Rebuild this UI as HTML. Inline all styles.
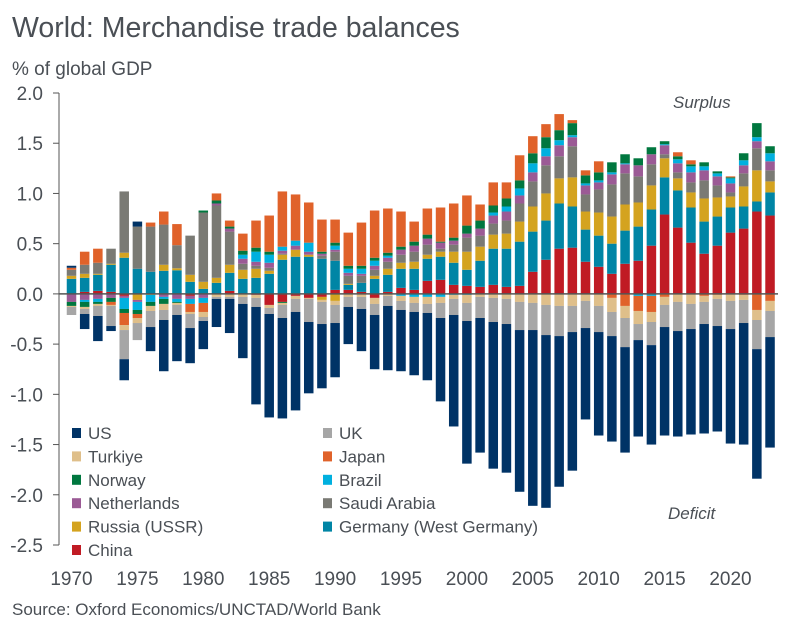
<!DOCTYPE html>
<html><head><meta charset="utf-8">
<style>
html,body{margin:0;padding:0;background:#fff;}
#wrap{position:relative;width:799px;height:638px;overflow:hidden;font-family:"Liberation Sans",sans-serif;color:#4a4f55;}
svg{position:absolute;left:0;top:0;}
</style></head>
<body>
<div id="wrap">
<svg id="chart" width="799" height="638">
<text x="12" y="37" font-size="28.5" fill="#4a4f55">World: Merchandise trade balances</text>
<text x="12" y="75" font-size="19" fill="#4a4f55">% of global GDP</text>
<text x="673" y="108" font-size="17" font-style="italic" fill="#4a4f55">Surplus</text>
<text x="668" y="519" font-size="17" font-style="italic" fill="#4a4f55">Deficit</text>
<text x="12" y="615" font-size="17" fill="#4a4f55">Source: Oxford Economics/UNCTAD/World Bank</text>
<g id="bars"></g>
<g id="axes"></g>
<g id="legend"></g>
</svg>
</div>
<script>
const years = [];
for (let y = 1970; y <= 2023; y++) years.push(y);
const seriesNames = ["China","Germany (West Germany)","Russia (USSR)","Saudi Arabia","Netherlands","Brazil","Norway","Japan","Turkiye","UK","US"];
const seriesColors = ["#c01b24","#0085a5","#d4a31f","#7a7a74","#9b5a95","#00b0df","#00773f","#e0622a","#dfbf8a","#a6a6a6","#003366"];
const china = [0,.02,.03,.02,-.02,0,0,0,0,-.02, 0,0,.03,0,-.01,-.11,-.08,-.02,-.04,-.03, .04,.04,.02,-.04,.02,.06,.04,.13,.14,.09, .08,.07,.09,.07,.08,.22,.34,.45,.46,.32, .27,.2,.3,.33,.48,.79,.66,.51,.4,.48, .61,.65,.82,.78];
const germany = [.15,.14,.16,.27,.36,.25,.22,.23,.235,.12, .05,.11,.18,.15,.16,.2,.34,.37,.37,.35, .29,.05,.09,.15,.17,.19,.21,.22,.23,.22, .16,.26,.36,.38,.44,.4,.39,.45,.41,.32, .31,.3,.33,.34,.36,.37,.37,.35,.32,.29, .25,.22,.1,.23];
const russia = [.03,.04,.01,.01,.05,-.06,-.01,.06,.02,.07, .07,.05,.08,.09,.09,.03,.05,.07,.02,-.03, -.07,.01,0,.03,.06,.06,.07,.04,.05,.11, .18,.14,.14,.15,.2,.25,.27,.25,.29,.18, .23,.27,.26,.24,.24,.19,.12,.15,.23,.19, .11,.2,.31,.11];
const saudi = [.06,.09,.11,.15,.61,.42,.45,.4,.23,.39, .69,.72,.33,.06,.03,.03,.01,0,0,.03, .09,.08,.07,.06,.07,.08,.1,.1,.03,.07, .14,.11,.11,.13,.18,.25,.28,.22,.31,.17, .23,.32,.31,.26,.21,.04,.06,.1,.18,.12, .04,.13,.22,.11];
const netherlands = [-.08,-.06,-.05,-.04,-.02,-.02,0,-.03,-.05,-.03, -.04,.02,.03,.05,.04,.05,.03,.04,.03,.02, .02,.03,.02,.04,.04,.05,.06,.06,.06,.04, .04,.07,.08,.09,.08,.09,.09,.11,.09,.09, .07,.1,.09,.11,.1,.09,.09,.1,.1,.09, .09,.08,.07,.09];
const brazil = [0,-.02,-.03,0,-.11,-.08,-.07,-.02,-.03,-.05, -.05,0,0,.04,.1,.08,.04,.05,.09,0, .04,.04,.05,.05,.02,-.02,-.03,-.03,-.03,-.01, -.01,0,.03,.05,.07,.09,.08,.05,.02,.02, .02,.02,.01,-.02,-.02,.01,.04,.06,.04,.03, .05,.05,.04,.08];
const norway = [-.04,-.05,-.02,-.04,-.04,-.04,-.04,-.05,-.01,0, .02,.03,.02,.04,.04,.03,-.01,0,0,.02, .03,.03,.03,.03,.03,.03,.04,.04,.01,.03, .08,.08,.07,.08,.08,.1,.11,.1,.12,.08, .08,.1,.09,.07,.07,.03,.03,.02,.04,.02, .01,.07,.14,.07];
const japan = [.02,.13,.14,-.03,-.12,-.04,.04,.13,.21,-.08, -.09,.07,.06,.17,.27,.36,.55,.46,.4,.32, .23,.33,.43,.47,.44,.35,.2,.26,.34,.34, .3,.16,.23,.16,.25,.17,.13,.16,.03,.05, .11,-.04,-.12,-.15,-.16,-.03,.04,.04,-.02,-.01, .01,-.01,-.16,-.07];
const turkiye = [-.01,-.02,-.02,-.01,-.05,-.05,-.05,-.06,-.02,-.02, -.05,-.03,-.03,-.03,-.03,-.03,-.02,-.03,-.01,-.02, -.04,-.03,-.03,-.06,-.02,-.05,-.06,-.07,-.06,-.04, -.08,-.03,-.04,-.05,-.08,-.09,-.11,-.12,-.12,-.07, -.12,-.14,-.12,-.13,-.1,-.08,-.08,-.1,-.06,-.04, -.07,-.05,-.1,-.1];
const uk = [-.08,-.05,-.1,-.2,-.29,-.17,-.16,-.1,-.1,-.14, -.04,-.02,-.02,-.07,-.09,-.06,-.13,-.13,-.23,-.22, -.18,-.1,-.12,-.11,-.1,-.09,-.09,-.09,-.15,-.16, -.18,-.21,-.24,-.25,-.28,-.27,-.3,-.3,-.26,-.27, -.26,-.24,-.29,-.16,-.23,-.22,-.29,-.25,-.22,-.27, -.28,-.23,-.29,-.26];
const us = [.02,-.15,-.25,-.05,-.21,.05,-.24,-.51,-.46,-.35, -.28,-.28,-.34,-.54,-.97,-1.03,-1.0,-.98,-.71,-.64, -.54,-.37,-.42,-.54,-.64,-.61,-.63,-.67,-.83,-1.11, -1.42,-1.34,-1.46,-1.48,-1.61,-1.75,-1.72,-1.5,-1.38,-.91, -1.03,-1.05,-1.05,-.96,-.99,-1.08,-1.05,-1.05,-1.09,-1.05, -1.14,-1.21,-1.29,-1.1];
const yTicks = [2.0,1.5,1.0,0.5,0.0,-0.5,-1.0,-1.5,-2.0,-2.5];
const xTickYears = [1970,1975,1980,1985,1990,1995,2000,2005,2010,2015,2020];
const legendOrder = ["US","UK","Turkiye","Japan","Norway","Brazil","Netherlands","Saudi Arabia","Russia (USSR)","Germany (West Germany)","China"];

const NS = "http://www.w3.org/2000/svg";
const series = [china, germany, russia, saudi, netherlands, brazil, norway, japan, turkiye, uk, us];
const yMax = 2.0, yMin = -2.5, plotTop = 93, plotBottom = 545;
function yScale(v){ return plotTop + (yMax - v) / (yMax - yMin) * (plotBottom - plotTop); }
const x0 = 71.5, step = 13.18, barW = 9.5;
function xScale(yr){ return x0 + (yr - years[0]) * step; }
function mk(tag, attrs){ const e = document.createElementNS(NS, tag); for (const k in attrs) e.setAttribute(k, attrs[k]); return e; }

const barsG = document.getElementById('bars');
years.forEach((yr, i) => {
  let pos = 0, neg = 0;
  series.forEach((s, si) => {
    const v = s[i];
    if (!v) return;
    let a, b;
    if (v > 0) { a = pos; b = pos + v; pos = b; } else { a = neg; b = neg + v; neg = b; }
    const y1 = yScale(Math.max(a, b)), y2 = yScale(Math.min(a, b));
    const r = mk('rect', {x: (xScale(yr) - barW/2).toFixed(2), y: y1.toFixed(2), width: barW, height: (y2 - y1).toFixed(2), fill: seriesColors[si]});
    
    
    barsG.appendChild(r);
  });
});

const axesG = document.getElementById('axes');
const zl = mk('line', {x1: 59, x2: 778, y1: yScale(0), y2: yScale(0), stroke: '#555', 'stroke-width': 1.5});


axesG.appendChild(zl);
const ya = mk('line', {x1: 59, x2: 59, y1: plotTop, y2: plotBottom, stroke: '#555', 'stroke-width': 1});


axesG.appendChild(ya);
yTicks.forEach(t => {
  const yy = yScale(t);
  const tk = mk('line', {x1: 53, x2: 59, y1: yy, y2: yy, stroke: '#555', 'stroke-width': 1});
  
  
  axesG.appendChild(tk);
  const tx = mk('text', {x: 43, y: yy + 7, 'font-size': 19, 'text-anchor': 'end', fill: '#4a4f55'});
  tx.textContent = t.toFixed(1);
  
  
  axesG.appendChild(tx);
});
xTickYears.forEach(yr => {
  const tx = mk('text', {x: xScale(yr), y: 585, 'font-size': 19, 'text-anchor': 'middle', fill: '#4a4f55'});
  tx.textContent = String(yr);
  
  
  axesG.appendChild(tx);
});

const legG = document.getElementById('legend');
legendOrder.forEach((name, k) => {
  const col = k % 2, row = Math.floor(k / 2);
  const lx = col === 0 ? 72 : 323, ly = 433 + row * 23.4;
  const si = seriesNames.indexOf(name);
  const g = mk('g', {});
  
  
  const sq = mk('rect', {x: lx, y: ly - 5, width: 9, height: 10, fill: seriesColors[si]});
  
  
  const tx = mk('text', {x: lx + 16, y: ly + 6, 'font-size': 17, fill: '#4a4f55'});
  tx.textContent = name;
  
  
  g.appendChild(sq); g.appendChild(tx);
  legG.appendChild(g);
});
</script>
</body></html>
